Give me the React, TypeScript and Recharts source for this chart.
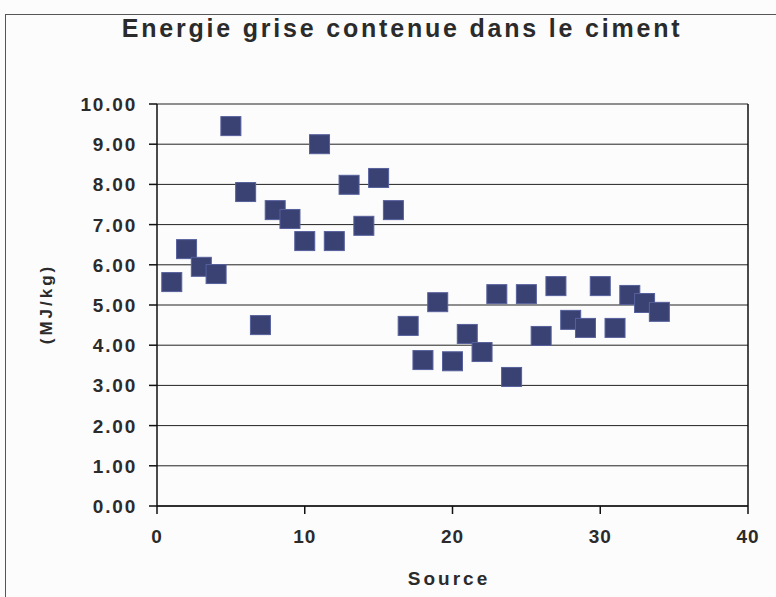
import React from 'react';
import { ScatterChart, Scatter, XAxis, YAxis, CartesianGrid, ReferenceLine } from 'recharts';

// values (source number -> MJ/kg)
const sources = [1, 2, 3, 4, 5, 6, 7, 8, 9, 10, 11, 12, 13, 14, 15, 16, 17, 18, 19, 20, 21, 22, 23, 24, 25, 26, 27, 28, 29, 30, 31, 32, 33, 34];
const energy = [5.57, 6.39, 5.95, 5.77, 9.45, 7.81, 4.5, 7.36, 7.14, 6.59, 9.0, 6.59, 7.99, 6.97, 8.16, 7.36, 4.48, 3.63, 5.07, 3.6, 4.28, 3.83, 5.27, 3.21, 5.27, 4.23, 5.47, 4.63, 4.43, 5.47, 4.43, 5.25, 5.05, 4.83];
const xTicks = [0, 10, 20, 30, 40];
const yTicks = [0, 1, 2, 3, 4, 5, 6, 7, 8, 9, 10];

const data = sources.map((s, i) => ({ source: s, value: energy[i] }));

const FONT = 'Arial, "Liberation Sans", sans-serif';
const INK = '#2b2b2b';

const SquareMarker = (props: any) => {
  const { cx, cy } = props;
  if (cx == null || cy == null) return null;
  return <rect x={cx - 10} y={cy - 9.5} width={20} height={19} fill="#3a4273" stroke="#56609c" strokeWidth={1} />;
};

const YTick = ({ x, y, payload }: any) => (
  <text x={x} y={y} dy={7} textAnchor="end" fontFamily={FONT} fontWeight="bold" fontSize={19} letterSpacing={1.8} fill={INK}>
    {Number(payload.value).toFixed(2)}
  </text>
);

const XTick = ({ x, y, payload }: any) => (
  <text x={x} y={y} dy={19} textAnchor="middle" fontFamily={FONT} fontWeight="bold" fontSize={19} letterSpacing={1} fill={INK}>
    {payload.value}
  </text>
);

export default function App() {
  return (
    <div style={{ position: 'absolute', left: 0, top: 0, width: 776, height: 597, overflow: 'hidden', background: '#fcfcfc' }}>
      <div style={{ position: 'absolute', left: 5, top: 14, width: 820, height: 640, border: '1.5px solid #555' }} />
      <div style={{ position: 'absolute', left: 0, top: 14, width: 804, textAlign: 'center', fontFamily: FONT, fontWeight: 'bold', fontSize: 25, letterSpacing: 2.8, color: INK }}>
        Energie grise contenue dans le ciment
      </div>
      <ScatterChart width={776} height={597} margin={{ top: 104, right: 28, bottom: 0, left: 0 }} style={{ position: 'absolute', left: 0, top: 0 }}>
        <CartesianGrid horizontal vertical={false} stroke="#222" strokeWidth={1} />
        <XAxis
          type="number"
          dataKey="source"
          domain={[0, 40]}
          ticks={xTicks}
          height={91}
          axisLine={{ stroke: '#111', strokeWidth: 1.5 }}
          tickLine={{ stroke: '#111', strokeWidth: 1.5 }}
          tickSize={8}
          tickMargin={10}
          tick={<XTick />}
          label={{
            content: () => (
              <text x={449} y={585} textAnchor="middle" fontFamily={FONT} fontWeight="bold" fontSize={19} letterSpacing={3} fill={INK}>
                Source
              </text>
            ),
          }}
        />
        <YAxis
          type="number"
          dataKey="value"
          domain={[0, 10]}
          ticks={yTicks}
          width={157}
          axisLine={{ stroke: '#111', strokeWidth: 1.5 }}
          tickLine={{ stroke: '#111', strokeWidth: 1.5 }}
          tickSize={8}
          tickMargin={12}
          tick={<YTick />}
          label={{
            content: () => (
              <text x={52} y={304} transform="rotate(-90 52 304)" textAnchor="middle" fontFamily={FONT} fontWeight="bold" fontSize={17} letterSpacing={3} fill={INK}>
                (MJ/kg)
              </text>
            ),
          }}
        />
        <ReferenceLine x={40} stroke="#111" strokeWidth={1.5} />
        <Scatter data={data} shape={<SquareMarker />} isAnimationActive={false} />
      </ScatterChart>
    </div>
  );
}
